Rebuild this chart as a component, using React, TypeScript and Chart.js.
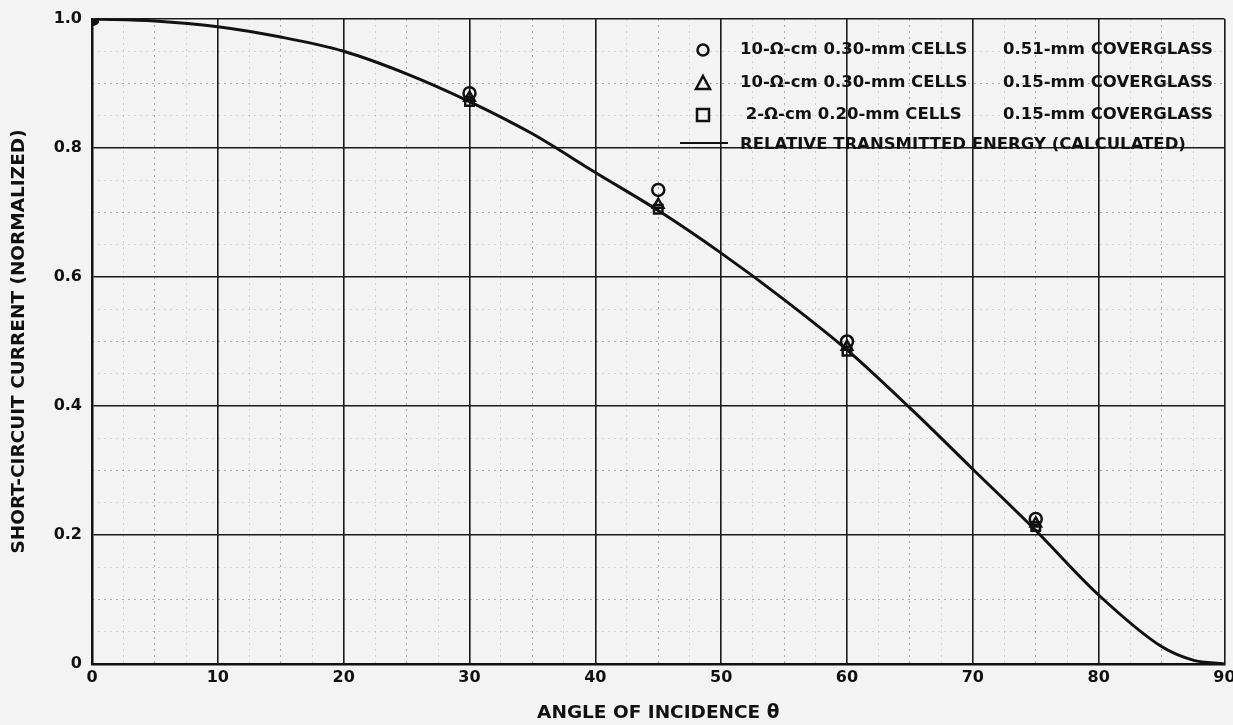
import React, { useEffect, useRef } from "react";
import { Chart, registerables } from "chart.js";

Chart.register(...registerables);

const curveAngles = [0, 5, 10, 15, 20, 25, 30, 35, 40, 45, 50, 55, 60, 65, 70, 75, 80, 85, 87.5, 90];
const curveValues = [1.0, 0.997, 0.988, 0.972, 0.95, 0.915, 0.872, 0.822, 0.762, 0.703, 0.637, 0.565, 0.487, 0.397, 0.302, 0.207, 0.107, 0.027, 0.006, 0.0];

const measuredAngles = [0, 30, 45, 60, 75];
const circleValues = [1.0, 0.885, 0.735, 0.5, 0.225];
const triangleValues = [1.0, 0.878, 0.712, 0.492, 0.218];
const squareValues = [1.0, 0.872, 0.705, 0.485, 0.213];

const xTicks = [0, 10, 20, 30, 40, 50, 60, 70, 80, 90];
const yTicks = [0, 0.2, 0.4, 0.6, 0.8, 1.0];

const legendRows = [
  { marker: "circle", cells: "10-Ω-cm 0.30-mm CELLS", glass: "0.51-mm COVERGLASS" },
  { marker: "triangle", cells: "10-Ω-cm 0.30-mm CELLS", glass: "0.15-mm COVERGLASS" },
  { marker: "rect", cells: " 2-Ω-cm 0.20-mm CELLS", glass: "0.15-mm COVERGLASS" },
  { marker: "line", cells: "RELATIVE TRANSMITTED ENERGY (CALCULATED)", glass: "" },
];

const FONT = "'DejaVu Sans', sans-serif";

const legendPlugin = {
  id: "paperLegend",
  afterDraw(chart: any) {
    const ctx = chart.ctx;
    ctx.save();
    ctx.fillStyle = "#111";
    ctx.strokeStyle = "#111";
    ctx.font = `bold 16.5px ${FONT}`;
    ctx.textBaseline = "middle";
    const rowY = [50, 83, 115, 145];
    legendRows.forEach((r, i) => {
      const y = rowY[i];
      const mx = 703;
      ctx.lineWidth = 2.5;
      if (r.marker === "circle") {
        ctx.beginPath();
        ctx.arc(mx, y, 5.5, 0, Math.PI * 2);
        ctx.stroke();
      } else if (r.marker === "triangle") {
        ctx.beginPath();
        ctx.moveTo(mx, y - 7);
        ctx.lineTo(mx + 7, y + 6);
        ctx.lineTo(mx - 7, y + 6);
        ctx.closePath();
        ctx.stroke();
      } else if (r.marker === "rect") {
        ctx.strokeRect(mx - 6, y - 6, 12, 12);
      } else {
        ctx.lineWidth = 2;
        ctx.beginPath();
        ctx.moveTo(680, y - 2);
        ctx.lineTo(728, y - 2);
        ctx.stroke();
      }
      ctx.textAlign = "left";
      ctx.fillText(r.cells, 740, y);
      if (r.glass) ctx.fillText(r.glass, 1003, y);
    });
    ctx.restore();
  },
};

export default function App() {
  const ref = useRef<HTMLCanvasElement | null>(null);
  useEffect(() => {
    if (!ref.current) return;
    const toPts = (vals: number[]) => measuredAngles.map((a, i) => ({ x: a, y: vals[i] }));
    const chart = new Chart(ref.current, {
      type: "scatter",
      data: {
        datasets: [
          {
            type: "line",
            label: "RELATIVE TRANSMITTED ENERGY (CALCULATED)",
            data: curveAngles.map((a, i) => ({ x: a, y: curveValues[i] })),
            borderColor: "#111",
            borderWidth: 3,
            pointRadius: 0,
            cubicInterpolationMode: "monotone",
            fill: false,
          } as any,
          {
            label: "circle",
            data: toPts(circleValues),
            pointStyle: "circle",
            pointRadius: 6,
            borderColor: "#111",
            borderWidth: 2.5,
            backgroundColor: "rgba(0,0,0,0)",
          },
          {
            label: "triangle",
            data: toPts(triangleValues),
            pointStyle: "triangle",
            pointRadius: 6,
            borderColor: "#111",
            borderWidth: 2.5,
            backgroundColor: "rgba(0,0,0,0)",
          },
          {
            label: "square",
            data: toPts(squareValues),
            pointStyle: "rect",
            pointRadius: 6,
            borderColor: "#111",
            borderWidth: 2.5,
            pointBackgroundColor: ["#111", "rgba(0,0,0,0)", "rgba(0,0,0,0)", "rgba(0,0,0,0)", "rgba(0,0,0,0)"],
          } as any,
        ],
      },
      options: {
        animation: false,
        responsive: false,
        maintainAspectRatio: false,
        layout: { padding: { left: 0, right: 3, top: 19, bottom: 0 } },
        plugins: { legend: { display: false }, tooltip: { enabled: false } },
        scales: {
          xMinor: {
            type: "linear",
            position: "top",
            min: 0,
            max: 90,
            afterBuildTicks: (s: any) => {
              const t = [];
              for (let v = 0; v <= 90; v += 2.5) t.push({ value: v });
              s.ticks = t;
            },
            ticks: { display: false },
            border: { display: false, dash: [2, 4] },
            grid: {
              drawTicks: false,
              lineWidth: 1,
              color: (c: any) => {
                const v = c.tick ? c.tick.value : 0;
                if (v % 10 === 0) return "rgba(0,0,0,0)";
                if (v % 5 === 0) return "rgba(0,0,0,0.3)";
                return "rgba(0,0,0,0.13)";
              },
            },
            afterFit: (s: any) => {
              s.height = 0;
              s.paddingLeft = 0;
              s.paddingRight = 0;
            },
          },
          yMinor: {
            type: "linear",
            position: "right",
            min: 0,
            max: 1,
            afterBuildTicks: (s: any) => {
              const t = [];
              for (let k = 0; k <= 20; k++) t.push({ value: k / 20 });
              s.ticks = t;
            },
            ticks: { display: false },
            border: { display: false, dash: [2, 4] },
            grid: {
              drawTicks: false,
              lineWidth: 1,
              color: (c: any) => {
                const k = c.tick ? Math.round(c.tick.value * 20) : 0;
                if (k % 4 === 0) return "rgba(0,0,0,0)";
                if (k % 2 === 0) return "rgba(0,0,0,0.3)";
                return "rgba(0,0,0,0.13)";
              },
            },
            afterFit: (s: any) => {
              s.width = 0;
              s.paddingTop = 0;
              s.paddingBottom = 0;
            },
          },
          x: {
            type: "linear",
            position: "bottom",
            min: 0,
            max: 90,
            afterBuildTicks: (s: any) => {
              s.ticks = xTicks.map((v) => ({ value: v }));
            },
            ticks: {
              color: "#111",
              padding: 4,
              maxRotation: 0,
              font: { family: FONT, size: 16, weight: "bold" },
            },
            grid: { color: "#1a1a1a", lineWidth: 1.6, drawTicks: false },
            border: { color: "#111", width: 2.5 },
            title: {
              display: true,
              text: "ANGLE OF INCIDENCE θ",
              color: "#111",
              font: { family: FONT, size: 18.5, weight: "bold" },
              padding: { top: 0, bottom: 1 },
            },
            afterFit: (s: any) => {
              s.height = 61;
              s.paddingLeft = 0;
              s.paddingRight = 0;
            },
          },
          y: {
            type: "linear",
            position: "left",
            min: 0,
            max: 1,
            afterBuildTicks: (s: any) => {
              s.ticks = yTicks.map((v) => ({ value: v }));
            },
            ticks: {
              color: "#111",
              padding: 10,
              font: { family: FONT, size: 16, weight: "bold" },
              callback: (v: any) => (Number(v) === 0 ? "0" : Number(v).toFixed(1)),
            },
            grid: { color: "#1a1a1a", lineWidth: 1.6, drawTicks: false },
            border: { color: "#111", width: 2.5 },
            title: {
              display: true,
              text: "SHORT-CIRCUIT CURRENT (NORMALIZED)",
              color: "#111",
              font: { family: FONT, size: 18.5, weight: "bold" },
              padding: { top: 8, bottom: 0 },
            },
            afterFit: (s: any) => {
              s.width = 92;
              s.paddingTop = 0;
              s.paddingBottom = 0;
            },
          },
        },
      },
      plugins: [legendPlugin],
    });
    return () => chart.destroy();
  }, []);
  return (
    <div
      style={{
        position: "fixed",
        left: 0,
        top: 0,
        width: 1233,
        height: 725,
        background: "#f3f3f3",
        overflow: "hidden",
      }}
    >
      <canvas ref={ref} width={1233} height={725} style={{ display: "block" }} />
    </div>
  );
}
